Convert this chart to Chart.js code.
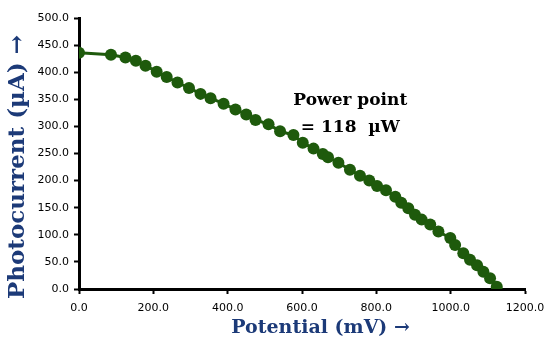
<!DOCTYPE html>
<html>
<head>
<meta charset="utf-8">
<script src="https://cdn.jsdelivr.net/npm/chart.js@4/dist/chart.umd.min.js"></script>
<style>
html,body{margin:0;padding:0;background:#fff;}
#wrap{width:546px;height:339px;position:relative;}
</style>
</head>
<body>
<div id="wrap"><canvas id="c" width="546" height="339"></canvas></div>
<script>
const potential = [0, 86, 125, 153, 179, 209, 236, 265, 296, 327, 354, 389, 421, 450, 475, 510, 541, 577, 602, 631, 656, 670, 698, 729, 756, 781, 802, 826, 851, 867, 886, 904, 922, 945, 967, 999, 1012, 1034, 1052, 1071, 1088, 1106, 1124];
const photocurrent = [436, 432, 427, 421, 412, 401, 391, 381, 371, 360, 352, 342, 331, 322, 312, 304, 291, 284, 270, 259, 249, 243, 233, 220, 209, 200, 190, 182, 170, 159, 149, 137, 128, 119, 106, 94, 81, 66, 54, 44, 32, 20, 4];
const annotationLines = ["Power point", "= 118  µW"];
const xTitle = "Potential (mV) →";
const yTitle = "Photocurrent (µA) →";

const points = potential.map((v, i) => ({x: v, y: photocurrent[i]}));
const green = '#1e5a0c';
const navy = '#1c3a78';

const texts = {
  id: 'texts',
  afterDraw(chart) {
    const ctx = chart.ctx;
    const xs = chart.scales.x, ys = chart.scales.y;
    ctx.save();
    ctx.textAlign = 'center';
    ctx.textBaseline = 'middle';
    // annotation
    ctx.fillStyle = '#000';
    ctx.font = 'bold 17px "DejaVu Serif"';
    const cx = xs.getPixelForValue(730);
    ctx.fillText(annotationLines[0], cx, ys.getPixelForValue(348));
    ctx.fillText(annotationLines[1], cx, ys.getPixelForValue(297));
    // x title
    ctx.fillStyle = navy;
    ctx.font = 'bold 19px "DejaVu Serif"';
    ctx.fillText(xTitle, xs.getPixelForValue(650), 328);
    // y title
    ctx.font = 'bold 23px "DejaVu Serif"';
    ctx.translate(18, ys.getPixelForValue(225));
    ctx.rotate(-Math.PI / 2);
    ctx.fillText(yTitle, 0, 0);
    ctx.restore();
  }
};

new Chart(document.getElementById('c'), {
  type: 'scatter',
  data: {
    datasets: [{
      data: points,
      showLine: true,
      borderColor: green,
      backgroundColor: green,
      borderWidth: 3,
      pointRadius: 6,
      pointHoverRadius: 6,
      pointBorderWidth: 0,
      tension: 0
    }]
  },
  options: {
    responsive: false,
    animation: false,
    events: [],
    layout: {padding: {top: 18, right: 21, left: 0, bottom: 0}},
    plugins: {legend: {display: false}, tooltip: {enabled: false}},
    scales: {
      x: {
        type: 'linear', min: 0, max: 1200,
        afterFit(s) { s.height = 50; s.paddingRight = 0; s.paddingLeft = 0; },
        ticks: {stepSize: 200, color: '#000', font: {family: 'DejaVu Sans', size: 11}, padding: 8, maxRotation: 0,
          callback: v => v.toFixed(1)},
        grid: {display: true, drawOnChartArea: false, color: '#000', tickLength: 5, tickWidth: 2},
        border: {display: true, color: '#000', width: 3},
        title: {display: false}
      },
      y: {
        min: 0, max: 500,
        afterFit(s) { s.width = 79; s.paddingTop = 0; s.paddingBottom = 0; },
        ticks: {stepSize: 50, color: '#000', font: {family: 'DejaVu Sans', size: 11}, padding: 5,
          callback: v => v.toFixed(1)},
        grid: {display: true, drawOnChartArea: false, color: '#000', tickLength: 5, tickWidth: 2},
        border: {display: true, color: '#000', width: 3},
        title: {display: false}
      }
    }
  },
  plugins: [texts]
});
</script>
</body>
</html>
